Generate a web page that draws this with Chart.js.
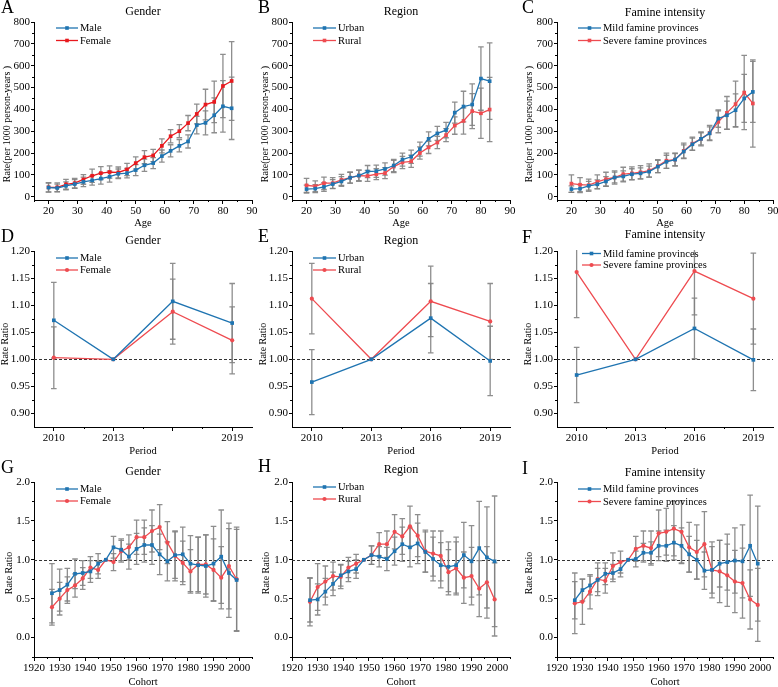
<!DOCTYPE html>
<html>
<head>
<meta charset="utf-8">
<script src="https://cdn.jsdelivr.net/npm/chart.js@4.4.1/dist/chart.umd.min.js"></script>
<style>
    html, body { margin: 0; padding: 0; background: #fff; overflow: hidden; width: 778px; height: 687px; }
    canvas { position: absolute; }
</style>
</head>
<body>
<canvas id="cA" width="258" height="235" style="left:0px;top:0px"></canvas>
<canvas id="cB" width="258" height="235" style="left:258px;top:0px"></canvas>
<canvas id="cC" width="260" height="235" style="left:518px;top:0px"></canvas>
<canvas id="cD" width="258" height="235" style="left:0px;top:225px"></canvas>
<canvas id="cE" width="258" height="235" style="left:258px;top:225px"></canvas>
<canvas id="cF" width="260" height="235" style="left:518px;top:225px"></canvas>
<canvas id="cG" width="258" height="235" style="left:0px;top:455px"></canvas>
<canvas id="cH" width="258" height="235" style="left:258px;top:455px"></canvas>
<canvas id="cI" width="260" height="235" style="left:518px;top:455px"></canvas>
<script>
// x values and ticks
const ages = [20, 23, 26, 29, 32, 35, 38, 41, 44, 47, 50, 53, 56, 59, 62, 65, 68, 71, 74, 77, 80, 83];
const periods = [2010, 2013, 2016, 2019];
const cohorts = [1927, 1930, 1933, 1936, 1939, 1942, 1945, 1948, 1951, 1954, 1957, 1960, 1963, 1966, 1969, 1972, 1975, 1978, 1981, 1984, 1987, 1990, 1993, 1996, 1999];

const ageTicks = [20, 30, 40, 50, 60, 70, 80, 90];
const rateTicks = [0, 100, 200, 300, 400, 500, 600, 700, 800];
const periodTicks = [2010, 2013, 2016, 2019];
const periodLabelsD = ['2010', '2013', '', '2019'];
const periodRatioTicks = [0.90, 0.95, 1.00, 1.05, 1.10, 1.15, 1.20];
const cohortTicks = [1920, 1930, 1940, 1950, 1960, 1970, 1980, 1990, 2000];
const cohortRatioTicks = [0.0, 0.5, 1.0, 1.5, 2.0];

// A - age, gender
const ageMale = [42, 40, 50, 58, 68, 75, 83, 92, 105, 108, 122, 144, 154, 186, 210, 233, 253, 328, 338, 373, 414, 405];
const ageMaleErr = [20, 18, 18, 20, 22, 22, 25, 25, 22, 22, 25, 28, 25, 28, 28, 28, 30, 40, 55, 80, 118, 143];
const ageFemale = [43, 43, 57, 62, 79, 96, 108, 113, 111, 125, 154, 181, 189, 233, 277, 300, 337, 379, 422, 434, 507, 530];
const ageFemaleErr = [22, 20, 22, 22, 22, 30, 30, 28, 25, 28, 28, 30, 28, 32, 30, 30, 35, 45, 70, 95, 145, 180];

// B - age, region
const ageUrban = [35, 37, 45, 58, 70, 87, 97, 115, 117, 127, 143, 170, 183, 218, 265, 290, 305, 385, 413, 422, 541, 529];
const ageUrbanErr = [18, 18, 20, 20, 22, 25, 25, 28, 28, 28, 28, 30, 30, 32, 32, 32, 35, 48, 70, 95, 145, 175];
const ageRural = [52, 48, 62, 62, 77, 87, 97, 95, 103, 108, 138, 157, 162, 200, 226, 248, 282, 326, 347, 392, 382, 399];
const ageRuralErr = [32, 25, 28, 25, 25, 25, 25, 25, 25, 25, 28, 28, 28, 28, 28, 28, 30, 40, 60, 80, 115, 147];

// C - age, famine intensity
const ageMild = [35, 37, 50, 57, 70, 88, 93, 103, 107, 115, 138, 160, 170, 207, 240, 265, 290, 358, 373, 396, 450, 480];
const ageMildErr = [15, 18, 20, 20, 22, 25, 25, 25, 25, 25, 28, 30, 28, 30, 28, 28, 30, 40, 65, 75, 110, 140];
const ageSevere = [60, 55, 53, 68, 80, 88, 103, 107, 112, 120, 140, 165, 170, 210, 243, 265, 292, 343, 384, 424, 477, 427];
const ageSevereErr = [40, 32, 28, 32, 32, 30, 32, 30, 30, 30, 30, 35, 30, 35, 30, 32, 35, 50, 75, 105, 170, 200];

// D-F - period rate ratios
const perMale = [1.072, 1.000, 1.107, 1.067];
const perMaleErr = [0.070, 0, 0.070, 0.073];
const perFemale = [1.003, 1.000, 1.088, 1.035];
const perFemaleErr = [0.057, 0, 0.060, 0.062];
const perUrban = [0.958, 1.000, 1.076, 0.997];
const perUrbanErr = [0.060, 0, 0.064, 0.064];
const perRural = [1.112, 1.000, 1.107, 1.070];
const perRuralErr = [0.065, 0, 0.065, 0.070];
const perMild = [0.971, 1.000, 1.057, 0.999];
const perMildErr = [0.051, 0, 0.056, 0.057];
const perSevere = [1.161, 1.000, 1.163, 1.112];
const perSevereErr = [0.084, 0, 0.081, 0.084];

// G-I - cohort rate ratios
const cohMale = [0.57, 0.61, 0.68, 0.82, 0.83, 0.85, 0.95, 1.00, 1.16, 1.13, 1.04, 1.14, 1.19, 1.19, 1.07, 0.98, 1.06, 1.07, 0.95, 0.93, 0.92, 0.95, 1.04, 0.83, 0.74];
const cohMaleErr = [0.38, 0.27, 0.21, 0.19, 0.16, 0.14, 0.13, 0, 0.14, 0.14, 0.16, 0.20, 0.22, 0.25, 0.26, 0.25, 0.30, 0.35, 0.36, 0.36, 0.40, 0.48, 0.60, 0.57, 0.65];
const cohFemale = [0.39, 0.50, 0.61, 0.67, 0.76, 0.90, 0.87, 1.00, 0.97, 1.11, 1.16, 1.29, 1.29, 1.37, 1.42, 1.22, 1.05, 0.96, 0.85, 0.94, 0.94, 0.87, 0.77, 0.92, 0.75];
const cohFemaleErr = [0.23, 0.21, 0.17, 0.15, 0.14, 0.14, 0.11, 0, 0.11, 0.14, 0.16, 0.22, 0.22, 0.27, 0.29, 0.27, 0.32, 0.28, 0.28, 0.35, 0.38, 0.40, 0.40, 0.55, 0.67];
const cohUrban = [0.48, 0.49, 0.59, 0.69, 0.80, 0.85, 0.88, 1.00, 1.06, 1.04, 1.01, 1.11, 1.20, 1.16, 1.21, 1.10, 1.01, 0.93, 0.91, 0.93, 1.06, 0.98, 1.15, 1.03, 0.98];
const cohUrbanErr = [0.28, 0.20, 0.17, 0.15, 0.14, 0.13, 0.12, 0, 0.12, 0.13, 0.15, 0.18, 0.22, 0.25, 0.26, 0.26, 0.28, 0.29, 0.32, 0.36, 0.42, 0.46, 0.60, 0.65, 0.84];
const cohRural = [0.46, 0.65, 0.72, 0.79, 0.78, 0.90, 0.95, 1.00, 1.06, 1.20, 1.20, 1.36, 1.30, 1.43, 1.31, 1.11, 1.08, 1.05, 0.84, 0.89, 0.77, 0.79, 0.63, 0.71, 0.49];
const cohRuralErr = [0.31, 0.30, 0.20, 0.18, 0.15, 0.13, 0.12, 0, 0.12, 0.15, 0.17, 0.22, 0.23, 0.26, 0.27, 0.27, 0.29, 0.32, 0.29, 0.34, 0.33, 0.37, 0.36, 0.46, 0.47];
const cohMild = [0.48, 0.61, 0.67, 0.74, 0.82, 0.83, 0.88, 1.00, 1.01, 1.09, 1.09, 1.18, 1.18, 1.22, 1.18, 1.07, 1.00, 0.86, 0.87, 0.95, 0.97, 0.99, 0.98, 1.18, 0.95];
const cohMildErr = [0.24, 0.14, 0.12, 0.15, 0.14, 0.11, 0.10, 0, 0.10, 0.12, 0.14, 0.19, 0.20, 0.22, 0.23, 0.23, 0.25, 0.24, 0.30, 0.30, 0.36, 0.42, 0.47, 0.65, 0.74];
const cohSevere = [0.44, 0.46, 0.59, 0.75, 0.73, 0.92, 0.97, 1.00, 1.14, 1.18, 1.15, 1.34, 1.36, 1.40, 1.36, 1.16, 1.10, 1.20, 0.87, 0.85, 0.80, 0.72, 0.70, 0.49, 0.42];
const cohSevereErr = [0.39, 0.29, 0.22, 0.21, 0.16, 0.17, 0.14, 0, 0.16, 0.19, 0.22, 0.30, 0.30, 0.35, 0.40, 0.32, 0.35, 0.42, 0.36, 0.40, 0.40, 0.40, 0.45, 0.38, 0.47];

const BLUE = '#1f74b1';
const RED_A = '#e8191e';
const RED = '#ee4b50';
const SERIF = "'Liberation Serif', 'Times New Roman', serif";

// plot-area geometry per column / row (canvas-local pixels)
const colGeo = [{ L: 34, R: 252, W: 258 }, { L: 34, R: 252, W: 258 }, { L: 39, R: 255, W: 260 }];
const rowGeo = [{ T: 22, B: 200, H: 235, pb: 5, yTitleY: 124 }, { T: 26, B: 202, H: 235, pb: 2, yTitleY: 119 }, { T: 27, B: 202, H: 235, pb: 1, yTitleY: 118 }];

function makePanel(id, col, row, o) {
    const g = Object.assign({}, colGeo[col], rowGeo[row]);
    const ctx = document.getElementById(id).getContext('2d');

    const series = o.series.map(s => ({
        label: s.label,
        data: o.xs.map((x, i) => ({ x: x, y: s.values[i] })),
        err: s.err,
        borderColor: s.color,
        backgroundColor: s.color,
        borderWidth: 1.3,
        pointStyle: s.marker,
        pointRadius: s.marker === 'rect' ? 2.6 : 2.1,
        pointBorderWidth: 0,
        tension: 0,
        fill: false
    }));

    // decorations: error bars, dashed line, minor ticks, titles, legend
    const decor = {
        id: 'decor' + id,
        beforeDatasetsDraw(chart) {
            const c = chart.ctx, a = chart.chartArea;
            const xs = chart.scales.x, ys = chart.scales.y;
            c.save();
            c.beginPath();
            c.rect(a.left, a.top - 1, a.right - a.left, a.bottom - a.top + 1);
            c.clip();
            if (o.refLine !== undefined) {
                const py = Math.round(ys.getPixelForValue(o.refLine)) + 0.5;
                c.strokeStyle = '#333';
                c.lineWidth = 1;
                c.setLineDash([3, 2]);
                c.beginPath();
                c.moveTo(a.left, py);
                c.lineTo(a.right, py);
                c.stroke();
                c.setLineDash([]);
            }
            c.strokeStyle = 'rgba(130,130,130,0.9)';
            c.lineWidth = 1.3;
            chart.data.datasets.forEach(ds => {
                ds.data.forEach((p, i) => {
                    const e = ds.err[i];
                    if (!e) return;
                    const px = xs.getPixelForValue(p.x);
                    const y1 = ys.getPixelForValue(p.y + e);
                    const y2 = ys.getPixelForValue(p.y - e);
                    c.beginPath();
                    c.moveTo(px, y1); c.lineTo(px, y2);
                    c.moveTo(px - 2.8, y1); c.lineTo(px + 2.8, y1);
                    c.moveTo(px - 2.8, y2); c.lineTo(px + 2.8, y2);
                    c.stroke();
                });
            });
            c.restore();
        },
        afterDraw(chart) {
            const c = chart.ctx, a = chart.chartArea;
            const xs = chart.scales.x, ys = chart.scales.y;
            c.save();
            // minor ticks
            c.strokeStyle = '#000';
            c.lineWidth = 1;
            c.beginPath();
            for (let v = o.xMinor[0]; v <= xs.max + 1e-9; v += o.xMinor[1]) {
                const px = Math.round(xs.getPixelForValue(v)) + 0.5;
                c.moveTo(px, a.bottom); c.lineTo(px, a.bottom + 2);
            }
            for (let v = o.yMinor[0]; v <= ys.max + 1e-9; v += o.yMinor[1]) {
                const py = Math.round(ys.getPixelForValue(v)) + 0.5;
                c.moveTo(a.left - 2, py); c.lineTo(a.left, py);
            }
            c.stroke();

            // y axis title
            c.fillStyle = '#000';
            c.textBaseline = 'middle';
            c.textAlign = 'center';
            c.font = '10px ' + SERIF;
            c.save();
            c.translate(o.yTitleX, g.yTitleY);
            c.rotate(-Math.PI / 2);
            c.fillText(o.yTitle, 0, 0);
            c.restore();

            // panel letter and title
            c.textAlign = 'left';
            c.font = '18px ' + SERIF;
            c.fillText(o.letter, o.letterPos[0], o.letterPos[1]);
            c.textAlign = 'center';
            c.font = '12px ' + SERIF;
            c.fillText(o.title, (a.left + a.right) / 2, o.titleY);

            // legend
            c.textAlign = 'left';
            c.font = '10.5px ' + SERIF;
            o.series.forEach((s, k) => {
                const ly = o.legend.y[k];
                const x1 = o.legend.x1, x2 = o.legend.x2;
                c.strokeStyle = s.color;
                c.lineWidth = 1.3;
                c.beginPath();
                c.moveTo(x1, ly); c.lineTo(x2, ly);
                c.stroke();
                c.fillStyle = s.color;
                const mx = (x1 + x2) / 2;
                if (s.marker === 'rect') {
                    c.fillRect(mx - 1.8, ly - 1.8, 3.6, 3.6);
                } else {
                    c.beginPath();
                    c.arc(mx, ly, 2.1, 0, Math.PI * 2);
                    c.fill();
                }
                c.fillStyle = '#000';
                c.fillText(s.label, x2 + 2, ly + 0.5);
            });
            c.restore();
        }
    };

    const tickFont = { family: SERIF, size: 11 };
    const axisTitleFont = { family: SERIF, size: 10.5 };

    return new Chart(ctx, {
        type: 'line',
        data: { datasets: series },
        options: {
            responsive: false,
            animation: false,
            layout: { padding: { top: g.T, right: g.W - g.R, left: 0, bottom: 0 } },
            plugins: { legend: { display: false }, tooltip: { enabled: false } },
            scales: {
                x: {
                    type: 'linear',
                    min: o.xRange[0],
                    max: o.xRange[1],
                    afterBuildTicks: s => { s.ticks = o.xTicks.map(v => ({ value: v })); },
                    afterFit: s => { s.height = g.H - g.B; s.paddingLeft = 0; s.paddingRight = 0; },
                    ticks: {
                        font: tickFont, color: '#000', padding: 1, maxRotation: 0, autoSkip: false,
                        callback: (v, i) => o.xLabels ? o.xLabels[i] : String(v)
                    },
                    grid: { drawOnChartArea: false, tickLength: 4, tickColor: '#000' },
                    border: { color: '#000', width: 1 },
                    title: { display: true, text: o.xTitle, font: axisTitleFont, color: '#000', padding: { top: 0, bottom: g.pb } }
                },
                y: {
                    type: 'linear',
                    min: o.yRange[0],
                    max: o.yRange[1],
                    afterBuildTicks: s => { s.ticks = o.yTicks.map(v => ({ value: v })); },
                    afterFit: s => { s.width = g.L; s.paddingTop = 0; s.paddingBottom = 0; },
                    ticks: {
                        font: tickFont, color: '#000', padding: 1,
                        callback: v => o.yFmt(v)
                    },
                    grid: { drawOnChartArea: false, tickLength: 3, tickColor: '#000' },
                    border: { color: '#000', width: 1 }
                }
            }
        },
        plugins: [decor]
    });
}

const rateFmt = v => String(Math.round(v));
const perFmt = v => v.toFixed(2);
const cohFmt = v => v.toFixed(1);
const rateTitle = 'Rate(per 1000 person-years )';

// Row 1: age effects
makePanel('cA', 0, 0, {
    letter: 'A', letterPos: [1, 8], title: 'Gender', titleY: 12,
    xs: ages, xRange: [15, 90], xTicks: ageTicks, xMinor: [15, 10], xTitle: 'Age',
    yRange: [-15, 800], yTicks: rateTicks, yMinor: [50, 100], yFmt: rateFmt, yTitle: rateTitle, yTitleX: 7,
    legend: { x1: 56, x2: 78, y: [28, 40.5] },
    series: [
        { label: 'Male', values: ageMale, err: ageMaleErr, color: BLUE, marker: 'rect' },
        { label: 'Female', values: ageFemale, err: ageFemaleErr, color: RED_A, marker: 'rect' }
    ]
});
makePanel('cB', 1, 0, {
    letter: 'B', letterPos: [0, 8], title: 'Region', titleY: 12,
    xs: ages, xRange: [15, 90], xTicks: ageTicks, xMinor: [15, 10], xTitle: 'Age',
    yRange: [-15, 800], yTicks: rateTicks, yMinor: [50, 100], yFmt: rateFmt, yTitle: rateTitle, yTitleX: 7,
    legend: { x1: 55, x2: 78, y: [28, 40.5] },
    series: [
        { label: 'Urban', values: ageUrban, err: ageUrbanErr, color: BLUE, marker: 'rect' },
        { label: 'Rural', values: ageRural, err: ageRuralErr, color: RED, marker: 'rect' }
    ]
});
makePanel('cC', 2, 0, {
    letter: 'C', letterPos: [4, 8], title: 'Famine intensity', titleY: 12.5,
    xs: ages, xRange: [15, 90], xTicks: ageTicks, xMinor: [15, 10], xTitle: 'Age',
    yRange: [-15, 800], yTicks: rateTicks, yMinor: [50, 100], yFmt: rateFmt, yTitle: rateTitle, yTitleX: 11.5,
    legend: { x1: 60, x2: 83, y: [28, 40.5] },
    series: [
        { label: 'Mild famine provinces', values: ageMild, err: ageMildErr, color: BLUE, marker: 'rect' },
        { label: 'Severe famine provinces', values: ageSevere, err: ageSevereErr, color: RED, marker: 'rect' }
    ]
});

// Row 2: period effects
makePanel('cD', 0, 1, {
    letter: 'D', letterPos: [1, 12], title: 'Gender', titleY: 16,
    xs: periods, xRange: [2009, 2020], xTicks: periodTicks, xLabels: periodLabelsD, xMinor: [2011.5, 3], xTitle: 'Period',
    yRange: [0.875, 1.20], yTicks: periodRatioTicks, yMinor: [0.925, 0.05], yFmt: perFmt, yTitle: 'Rate Ratio', yTitleX: 5.5,
    refLine: 1.0,
    legend: { x1: 56, x2: 78, y: [33, 45] },
    series: [
        { label: 'Male', values: perMale, err: perMaleErr, color: BLUE, marker: 'rect' },
        { label: 'Female', values: perFemale, err: perFemaleErr, color: RED, marker: 'circle' }
    ]
});
makePanel('cE', 1, 1, {
    letter: 'E', letterPos: [0, 12], title: 'Region', titleY: 16,
    xs: periods, xRange: [2009, 2020], xTicks: periodTicks, xMinor: [2011.5, 3], xTitle: 'Period',
    yRange: [0.875, 1.20], yTicks: periodRatioTicks, yMinor: [0.925, 0.05], yFmt: perFmt, yTitle: 'Rate Ratio', yTitleX: 5.5,
    refLine: 1.0,
    legend: { x1: 55, x2: 78, y: [33, 45] },
    series: [
        { label: 'Urban', values: perUrban, err: perUrbanErr, color: BLUE, marker: 'rect' },
        { label: 'Rural', values: perRural, err: perRuralErr, color: RED, marker: 'circle' }
    ]
});
makePanel('cF', 2, 1, {
    letter: 'F', letterPos: [4, 13], title: 'Famine intensity', titleY: 10,
    xs: periods, xRange: [2009, 2020], xTicks: periodTicks, xMinor: [2011.5, 3], xTitle: 'Period',
    yRange: [0.875, 1.20], yTicks: periodRatioTicks, yMinor: [0.925, 0.05], yFmt: perFmt, yTitle: 'Rate Ratio', yTitleX: 10,
    refLine: 1.0,
    legend: { x1: 64, x2: 83, y: [28.5, 40] },
    series: [
        { label: 'Mild famine provinces', values: perMild, err: perMildErr, color: BLUE, marker: 'rect' },
        { label: 'Severe famine provinces', values: perSevere, err: perSevereErr, color: RED, marker: 'circle' }
    ]
});

// Row 3: cohort effects
makePanel('cG', 0, 2, {
    letter: 'G', letterPos: [1, 13], title: 'Gender', titleY: 17,
    xs: cohorts, xRange: [1920, 2005], xTicks: cohortTicks, xMinor: [1925, 10], xTitle: 'Cohort',
    yRange: [-0.25, 2.0], yTicks: cohortRatioTicks, yMinor: [-0.25, 0.5], yFmt: cohFmt, yTitle: 'Rate Ratio', yTitleX: 9,
    refLine: 1.0,
    legend: { x1: 56, x2: 78, y: [34, 46] },
    series: [
        { label: 'Male', values: cohMale, err: cohMaleErr, color: BLUE, marker: 'rect' },
        { label: 'Female', values: cohFemale, err: cohFemaleErr, color: RED, marker: 'circle' }
    ]
});
makePanel('cH', 1, 2, {
    letter: 'H', letterPos: [0, 12], title: 'Region', titleY: 15,
    xs: cohorts, xRange: [1920, 2005], xTicks: cohortTicks, xMinor: [1925, 10], xTitle: 'Cohort',
    yRange: [-0.25, 2.0], yTicks: cohortRatioTicks, yMinor: [-0.25, 0.5], yFmt: cohFmt, yTitle: 'Rate Ratio', yTitleX: 8,
    refLine: 1.0,
    legend: { x1: 55, x2: 78, y: [32, 44] },
    series: [
        { label: 'Urban', values: cohUrban, err: cohUrbanErr, color: BLUE, marker: 'rect' },
        { label: 'Rural', values: cohRural, err: cohRuralErr, color: RED, marker: 'circle' }
    ]
});
makePanel('cI', 2, 2, {
    letter: 'I', letterPos: [4, 14.5], title: 'Famine intensity', titleY: 18,
    xs: cohorts, xRange: [1920, 2005], xTicks: cohortTicks, xMinor: [1925, 10], xTitle: 'Cohort',
    yRange: [-0.25, 2.0], yTicks: cohortRatioTicks, yMinor: [-0.25, 0.5], yFmt: cohFmt, yTitle: 'Rate Ratio', yTitleX: 11,
    refLine: 1.0,
    legend: { x1: 60, x2: 83, y: [34, 46.5] },
    series: [
        { label: 'Mild famine provinces', values: cohMild, err: cohMildErr, color: BLUE, marker: 'rect' },
        { label: 'Severe famine provinces', values: cohSevere, err: cohSevereErr, color: RED, marker: 'circle' }
    ]
});
</script>
</body>
</html>
